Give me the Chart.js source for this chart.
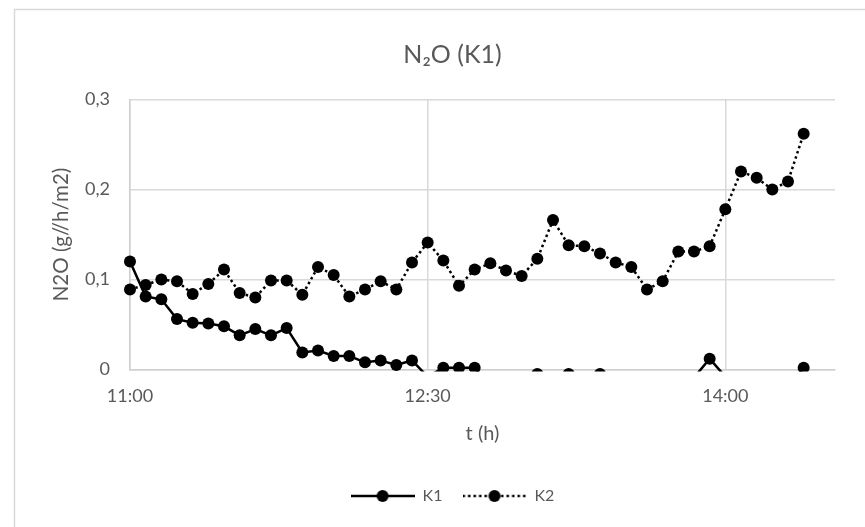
<!DOCTYPE html>
<html>
<head>
<meta charset="utf-8">
<script src="https://cdn.jsdelivr.net/npm/chart.js@4/dist/chart.umd.min.js"></script>
<style>
  html, body { margin: 0; padding: 0; background: #ffffff; }
  #wrap { position: relative; width: 865px; height: 527px; }
</style>
</head>
<body>
<div id="wrap"><canvas id="c" width="865" height="527"></canvas></div>
<script>
// ---- data ----
const categories = [
  1, 2, 3, 4, 5, 6, 7, 8, 9, 10, 11, 12, 13, 14, 15, 16, 17, 18, 19, 20, 21, 22, 23,
  24, 25, 26, 27, 28, 29, 30, 31, 32, 33, 34, 35, 36, 37, 38, 39, 40, 41, 42, 43, 44, 45, 46
];
const tickPositions = [0, 19, 38];
const tickLabels = ['11:00', '12:30', '14:00'];
const k1Values = [
  0.120, 0.081, 0.078, 0.056, 0.052, 0.051, 0.048, 0.038, 0.045, 0.038,
  0.046, 0.019, 0.021, 0.015, 0.015, 0.008, 0.010, 0.005, 0.010, -0.008,
  0.002, 0.002, 0.002, -0.020, -0.020, -0.020, -0.005, -0.020, -0.005, -0.020,
  -0.005, -0.020, -0.020, -0.020, -0.020, -0.020, -0.009, 0.012, -0.008, -0.020,
  -0.020, -0.020, -0.020, 0.002
];
const k2Values = [
  0.089, 0.094, 0.100, 0.098, 0.084, 0.095, 0.111, 0.085, 0.080, 0.099,
  0.099, 0.083, 0.114, 0.105, 0.081, 0.089, 0.098, 0.089, 0.119, 0.141,
  0.121, 0.093, 0.111, 0.118, 0.110, 0.104, 0.123, 0.166, 0.138, 0.137,
  0.129, 0.119, 0.114, 0.089, 0.098, 0.131, 0.131, 0.137, 0.178, 0.220,
  0.213, 0.200, 0.209, 0.262
];
const yTicks = [0, 0.1, 0.2, 0.3];

// ---- styling ----
const TXT = '#595959';
const GRID = '#d9d9d9';
const FONT = 'Lato, "Open Sans", sans-serif';
const DOTS = [2.5, 3];

function legendIcon(dash) {
  const cv = document.createElement('canvas');
  cv.width = 64; cv.height = 14;
  const g = cv.getContext('2d');
  g.strokeStyle = '#000'; g.lineWidth = 2.5;
  g.setLineDash(dash);
  g.beginPath(); g.moveTo(0, 7); g.lineTo(64, 7); g.stroke();
  g.setLineDash([]);
  g.fillStyle = '#000';
  g.beginPath(); g.arc(32, 7, 6, 0, Math.PI * 2); g.fill();
  return cv;
}
const icons = [legendIcon([]), legendIcon(DOTS)];

const borderPlugin = {
  id: 'outerBorder',
  beforeDraw(chart) {
    const ctx = chart.ctx;
    ctx.save();
    ctx.strokeStyle = GRID;
    ctx.lineWidth = 1.5;
    ctx.strokeRect(14.5, 9.5, 900, 600);
    ctx.restore();
  }
};

const clipBox = { left: 10, top: 10, right: 10, bottom: 2 };

new Chart(document.getElementById('c'), {
  type: 'line',
  data: {
    labels: categories,
    datasets: [
      {
        label: 'K1', data: k1Values,
        borderColor: '#000', backgroundColor: '#000', borderWidth: 2.5,
        pointRadius: 6, pointBorderWidth: 0, pointBackgroundColor: '#000',
        tension: 0, clip: clipBox
      },
      {
        label: 'K2', data: k2Values,
        borderColor: '#000', backgroundColor: '#000', borderWidth: 2.5,
        borderDash: DOTS,
        pointRadius: 6, pointBorderWidth: 0, pointBackgroundColor: '#000',
        tension: 0, clip: clipBox
      }
    ]
  },
  options: {
    responsive: false,
    animation: false,
    devicePixelRatio: 1,
    layout: { padding: { left: 40, right: 0, top: 0, bottom: 13 } },
    plugins: {
      title: {
        display: true,
        text: 'N\u2082O (K1)',
        color: TXT,
        font: { family: FONT, size: 25, weight: 'normal' },
        padding: { top: 40, bottom: 29.5 }
      },
      legend: {
        display: true,
        position: 'bottom',
        labels: {
          color: TXT,
          font: { family: FONT, size: 16 },
          usePointStyle: true,
          pointStyleWidth: 64,
          padding: 20,
          generateLabels(chart) {
            return chart.data.datasets.map((ds, i) => ({
              text: ds.label,
              pointStyle: icons[i],
              fillStyle: '#000', strokeStyle: '#000', lineWidth: 0,
              hidden: false, datasetIndex: i, fontColor: TXT
            }));
          }
        }
      },
      tooltip: { enabled: false }
    },
    scales: {
      x: {
        type: 'category',
        offset: false,
        grid: {
          drawTicks: false,
          lineWidth: 1.5,
          color: (c) => tickPositions.includes(c.index) ? GRID : 'rgba(0,0,0,0)'
        },
        border: { display: true, color: '#cfcfcf', width: 1.5 },
        ticks: {
          autoSkip: false, maxRotation: 0, minRotation: 0,
          color: TXT, font: { family: FONT, size: 18 }, padding: 16,
          callback: (v, i) => {
            const k = tickPositions.indexOf(i);
            return k >= 0 ? tickLabels[k] : '';
          }
        },
        title: {
          display: true, text: 't (h)', color: TXT,
          font: { family: FONT, size: 20 },
          padding: { top: 0, bottom: 22 }
        },
        afterFit(scale) { scale.height = 98.5; scale.paddingRight = 30; scale.paddingLeft = 0; }
      },
      y: {
        min: 0, max: 0.3,
        afterBuildTicks(scale) { scale.ticks = yTicks.map(v => ({ value: v })); },
        grid: { drawTicks: false, color: GRID, lineWidth: 1.5 },
        border: { display: true, color: '#cfcfcf', width: 1.5 },
        ticks: {
          color: TXT, font: { family: FONT, size: 18 }, padding: 20,
          callback: (v) => v === 0 ? '0' : v.toFixed(1).replace('.', ',')
        },
        title: {
          display: true, text: 'N2O (g//h/m2)', color: TXT,
          font: { family: FONT, size: 20.5 },
          padding: { top: 9, bottom: 0 }
        },
        afterFit(scale) { scale.width = 90; }
      }
    }
  },
  plugins: [borderPlugin]
});
</script>
</body>
</html>
